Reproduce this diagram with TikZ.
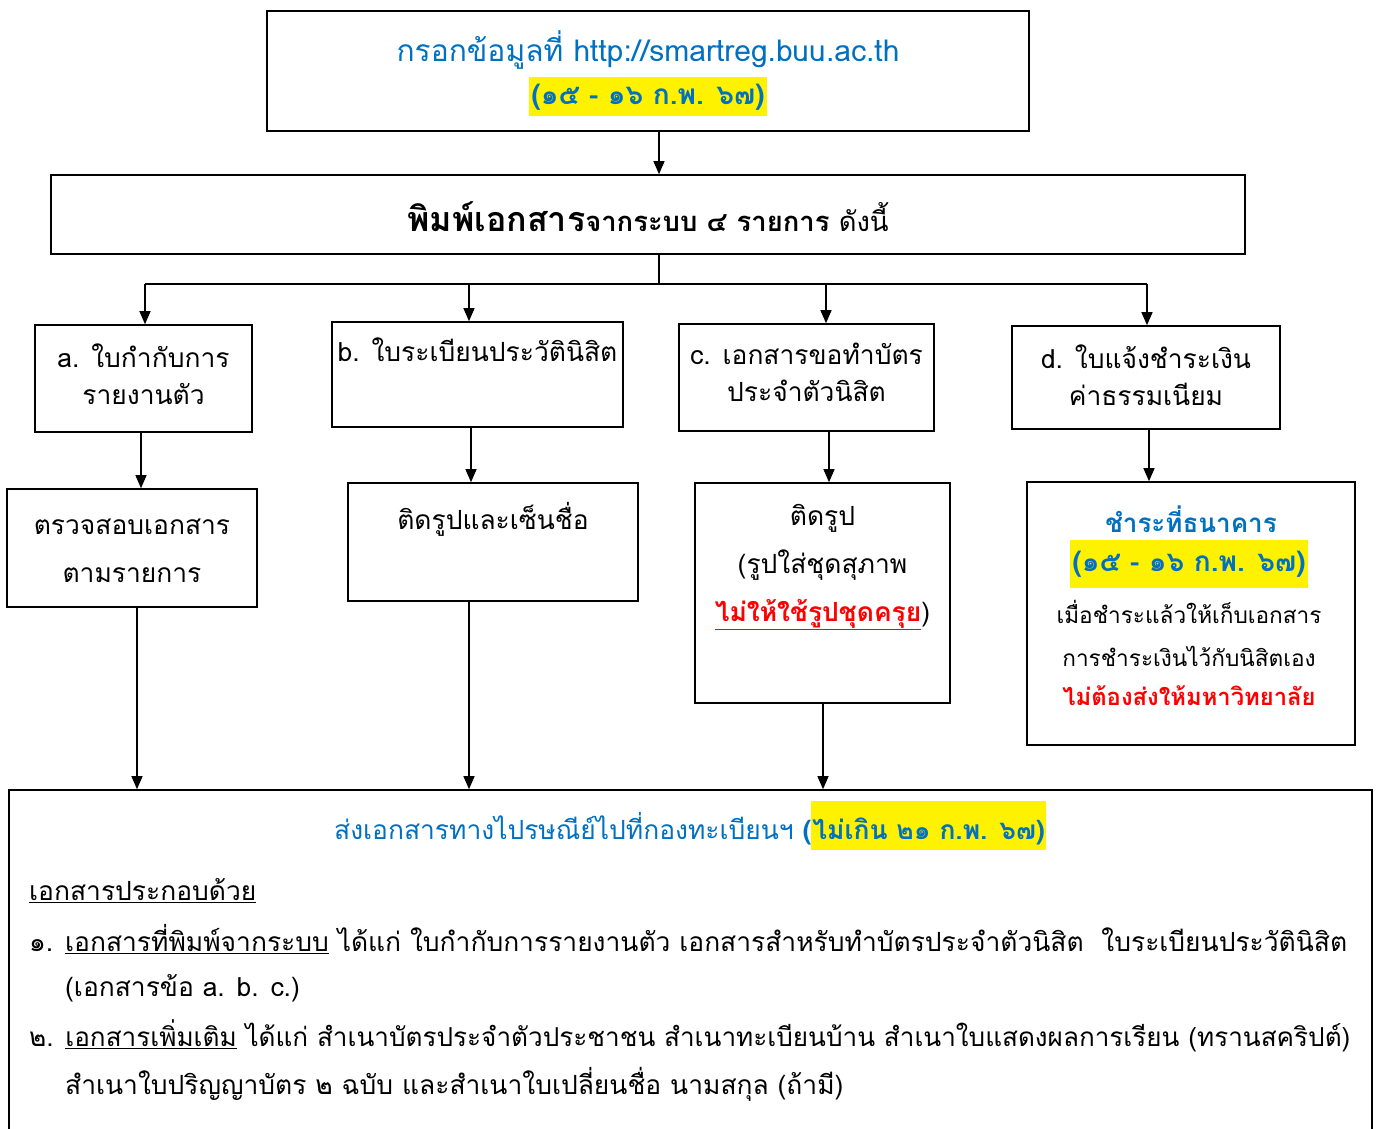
\documentclass[tikz,border=0pt]{standalone}
\usepackage{fontspec}
\setmainfont[Script=Thai]{Loma}
\usepackage{xcolor}
\usetikzlibrary{arrows.meta,positioning}
\definecolor{linkblue}{RGB}{0,112,192}
\newcommand{\hilite}[1]{{\setlength{\fboxsep}{1pt}\colorbox{yellow}{\rule[-9pt]{0pt}{47pt}#1}}}

\begin{document}
\begin{tikzpicture}[x=1pt,y=-1pt,>={Triangle[width=11pt,length=13pt]},
	box/.style = {draw,line width=1.6pt,inner sep=0pt},
	txt/.style = {inner sep=0pt,align=center,font=\fontsize{26.4}{37}\selectfont},
	widetxt/.style = {txt,font=\fontsize{26.4}{48}\selectfont},
	hl/.style = {txt,fill=yellow,text=linkblue,font=\fontsize{28}{37}\selectfont\bfseries,minimum width=238,minimum height=39},
	link/.style = {line width=1.2pt}
	]
	\useasboundingbox (0,0) rectangle (1381,1129);
	%Inserimento dati
	\node[box,minimum width=762,minimum height=120] (fill) at (648,71) {};
	\node[txt,text=linkblue,font=\fontsize{30}{37}\selectfont] (filltxt) at (648,50) {กรอกข้อมูลที่ http://smartreg.buu.ac.th};
	\node[hl] (filldate) at (648,97) {(๑๕ - ๑๖ ก.พ. ๖๗)};
	%Stampa
	\node[box,minimum width=1194,minimum height=79] (print) at (648,214.5) {};
	\node[txt,font=\fontsize{27.4}{37}\selectfont] (printtxt) at (648,217) {\textbf{\fontsize{34}{37}\selectfont พิมพ์เอกสาร}\textbf{จากระบบ ๔ รายการ} ดังนี้};
	\draw[->,link] ([xshift=11]fill.south) -- ([xshift=11]print.north);
	%Documenti
	\node[box,minimum width=217,minimum height=107] (a) at (143.5,378.5) {};
	\node[txt] (atxt) at (143.5,374) {a. ใบกำกับการ\\รายงานตัว};
	\node[box,minimum width=291,minimum height=105] (b) at (477.5,374.5) {};
	\node[txt] (btxt) at (477.5,350) {b. ใบระเบียนประวัตินิสิต};
	\node[box,minimum width=255,minimum height=107] (c) at (806.5,377.5) {};
	\node[txt] (ctxt) at (806.5,372.5) {c. เอกสารขอทำบัตร\\ประจำตัวนิสิต};
	\node[box,minimum width=268,minimum height=103] (d) at (1146,377.5) {};
	\node[txt] (dtxt) at (1146,375) {d. ใบแจ้งชำระเงิน\\ค่าธรรมเนียม};
	%Diramazione
	\coordinate (split) at ([xshift=11]print.south |- 0,284);
	\coordinate (ta) at (145,284);
	\coordinate (td) at (1147,284);
	\draw[link] ([xshift=11]print.south) -- (split);
	\draw[link] (ta) -- (td);
	\draw[->,link] (ta) -- (ta |- a.north);
	\draw[->,link] ([xshift=-8.5]b.north |- ta) -- ([xshift=-8.5]b.north);
	\draw[->,link] ([xshift=19.5]c.north |- ta) -- ([xshift=19.5]c.north);
	\draw[->,link] (td) -- (td |- d.north);
	%Passi successivi
	\node[box,minimum width=250,minimum height=118] (a2) at (132,548) {};
	\node[widetxt] (a2txt) at (132,551) {ตรวจสอบเอกสาร\\ตามรายการ};
	\node[box,minimum width=290,minimum height=118] (b2) at (493,542) {};
	\node[txt] (b2txt) at (493,519) {ติดรูปและเซ็นชื่อ};
	\node[box,minimum width=255,minimum height=220] (c2) at (822.5,593) {};
	\node[widetxt] (c2txt) at (822.5,567) {ติดรูป\\(รูปใส่ชุดสุภาพ\\\textcolor{red}{\bfseries\underline{ไม่ให้ใช้รูปชุดครุย}})};
	\node[box,minimum width=328,minimum height=263] (d2) at (1191,613.5) {};
	\node[txt,text=linkblue,font=\fontsize{26}{37}\selectfont\bfseries] (paybank) at (1191,519) {ชำระที่ธนาคาร};
	\node[hl,minimum height=48] (paydate) at (1189,564) {(๑๕ - ๑๖ ก.พ. ๖๗)};
	\node[txt,font=\fontsize{22.6}{43}\selectfont] (paynote) at (1189,633) {เมื่อชำระแล้วให้เก็บเอกสาร\\การชำระเงินไว้กับนิสิตเอง};
	\node[txt,text=red,font=\fontsize{23.8}{43}\selectfont\bfseries] (payred) at (1189,696) {ไม่ต้องส่งให้มหาวิทยาลัย};
	\draw[->,link] ([xshift=-2.5]a.south) -- ([xshift=9]a2.north);
	\draw[->,link] ([xshift=-6.5]b.south) -- ([xshift=-22]b2.north);
	\draw[->,link] ([xshift=22.5]c.south) -- ([xshift=6.5]c2.north);
	\draw[->,link] ([xshift=3]d.south) -- ([xshift=-42]d2.north);
	%Spedizione
	\node[box,minimum width=1363,minimum height=400] (send) at (690.5,990) {};
	\draw[->,link] ([xshift=5]a2.south) -- ([xshift=5]a2.south |- send.north);
	\draw[->,link] ([xshift=-24]b2.south) -- ([xshift=-24]b2.south |- send.north);
	\draw[->,link] ([xshift=0.5]c2.south) -- ([xshift=0.5]c2.south |- send.north);
	\node[txt,text=linkblue] (sendtxt) at (690,825) {ส่งเอกสารทางไปรษณีย์ไปที่กองทะเบียนฯ \textbf{(}\hilite{\textbf{ไม่เกิน ๒๑ ก.พ. ๖๗)}}};
	\node[txt,anchor=west] (docs) at (29,891) {\underline{เอกสารประกอบด้วย}};
	\node[txt,anchor=west] (doc1) at (29,939) {๑. \underline{เอกสารที่พิมพ์จากระบบ} ได้แก่ ใบกำกับการรายงานตัว เอกสารสำหรับทำบัตรประจำตัวนิสิต\ \ ใบระเบียนประวัตินิสิต};
	\node[txt,anchor=west] (doc1b) at (65,988) {(เอกสารข้อ a. b. c.)};
	\node[txt,anchor=west,font=\fontsize{26.1}{37}\selectfont] (doc2) at (29,1036) {๒. \underline{เอกสารเพิ่มเติม} ได้แก่ สำเนาบัตรประจำตัวประชาชน สำเนาทะเบียนบ้าน สำเนาใบแสดงผลการเรียน (ทรานสคริปต์)};
	\node[txt,anchor=west] (doc2b) at (65,1084) {สำเนาใบปริญญาบัตร ๒ ฉบับ และสำเนาใบเปลี่ยนชื่อ นามสกุล (ถ้ามี)};
\end{tikzpicture}
\end{document}
